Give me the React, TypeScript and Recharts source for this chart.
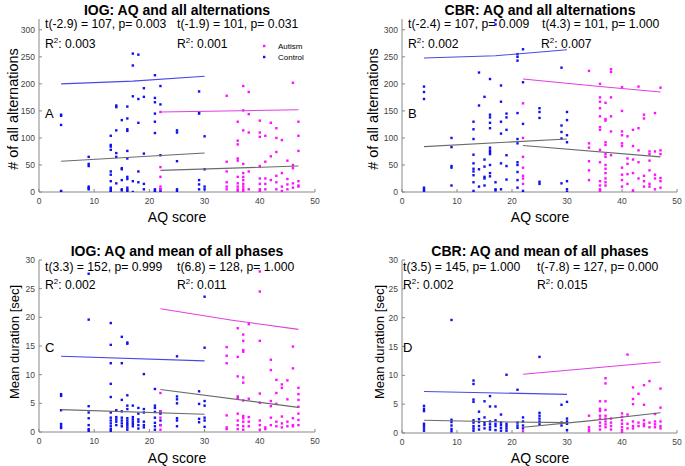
import { ScatterChart, Scatter, XAxis, YAxis } from 'recharts';

type Group = [number, number[]];

// AQ score -> values at that score
// Panel A: IOG, number of all alternations
const aControl: Group[] = [
  [4, [143, 141, 124, 0, 2]],
  [9, [65, 52, 48, 10, 7, 5]],
  [13, [104, 87, 84, 78, 38, 32, 20, 8, 5, 2, 0]],
  [14, [160, 157, 114, 72, 65, 16]],
  [15, [133, 44, 42, 22, 5, 3]],
  [16, [158, 136, 116, 113, 76, 62, 28, 24, 8, 4, 2]],
  [17, [256, 234, 177, 20, 0]],
  [18, [254, 172, 128, 38, 18]],
  [19, [192, 176, 71, 15, 5]],
  [21, [216, 174, 166, 145, 130, 109, 5, 3, 0]],
  [22, [196, 162, 68, 5, 2]],
  [25, [114, 110, 57, 5, 2]],
  [29, [186, 147, 145, 22, 14, 5]],
  [30, [103, 42, 10, 5]],
];
const aAutism: Group[] = [
  [22, [148, 46, 28, 10, 5]],
  [34, [178, 56, 38, 18, 10, 5]],
  [36, [130, 95, 88, 62, 58, 28, 16, 10, 5, 2]],
  [37, [196, 151, 114, 52, 35, 28, 22, 15, 10, 5, 2]],
  [38, [185, 144, 110, 38, 5]],
  [40, [132, 110, 102, 48, 25, 15, 5, 2]],
  [41, [104, 56, 25, 15, 5]],
  [42, [128, 66, 22]],
  [43, [118, 100, 74, 30, 18, 5]],
  [44, [96, 35, 10, 2]],
  [45, [58, 24, 14, 5]],
  [46, [202, 50, 44, 16, 8]],
  [47, [130, 104, 76, 20, 12, 10]],
];
const aFitControl = [[4, 200], [17, 205], [30, 214]];
const aFitAutism = [[22, 148], [47, 152]];
const aFitControlAll = [[4, 57], [30, 72]];
const aFitAutismAll = [[22, 40], [47, 48]];

// Panel B: CBR, number of all alternations
const bControl: Group[] = [
  [4, [195, 185, 172, 8, 5, 2]],
  [9, [100, 83, 48, 45, 12]],
  [13, [130, 116, 98, 69, 53, 43, 38, 31, 18, 2]],
  [14, [221, 160, 42, 10]],
  [15, [176, 60, 47, 28, 25, 12]],
  [16, [209, 143, 138, 128, 118, 82, 77, 74, 70, 50, 35, 29]],
  [17, [318, 310, 18, 5, 3]],
  [18, [197, 167, 130, 108, 53, 5]],
  [19, [145, 138, 115, 68, 48, 23]],
  [21, [255, 250, 243, 146, 98, 90, 55, 50, 37, 22, 8]],
  [22, [264, 203, 126, 2]],
  [25, [155, 148, 137, 19, 15]],
  [29, [230, 123, 111, 99, 16]],
  [30, [148, 133, 105, 92, 20, 5, 0]],
];
const bAutism: Group[] = [
  [22, [164, 100, 65, 45, 30, 25, 15]],
  [34, [224, 90, 82, 57, 40, 22]],
  [36, [200, 175, 167, 155, 140, 120, 115, 78, 55, 20, 12, 5, 2]],
  [37, [165, 135, 132, 92, 87, 70, 65, 50, 43, 35, 25, 18, 12]],
  [38, [227, 222, 175, 140, 112, 68]],
  [40, [194, 150, 112, 105, 90, 85, 45, 32, 22, 10]],
  [41, [103, 62, 52, 33, 15]],
  [42, [115, 85, 60, 35, 3, 0]],
  [43, [195, 118, 77, 55, 25]],
  [44, [143, 136, 30, 20, 10]],
  [45, [75, 70, 58, 40, 15, 10]],
  [46, [146, 75, 32, 25, 5]],
  [47, [193, 77, 70, 26, 20, 8]],
];
const bFitControl = [[4, 248], [17, 252], [30, 263]];
const bFitAutism = [[22, 209], [35, 196], [47, 185]];
const bFitControlAll = [[4, 84], [30, 98]];
const bFitAutismAll = [[22, 86], [47, 65]];

// Panel C: IOG, mean phase duration
const cControl: Group[] = [
  [4, [6.6, 6.3, 3.8, 1.4, 1.0, 0.7]],
  [9, [27.6, 19.6, 4.5, 3.4, 2.4, 1.2, 0.5, 0.2]],
  [13, [19.0, 15.2, 12.0, 8.4, 6.1, 3.4, 2.5, 2.0, 1.5, 1.0, 0.5, 0.2]],
  [14, [3.8, 2.6, 2.2, 1.8, 1.2]],
  [15, [16.6, 12.0, 5.6, 3.6, 2.5, 2.0, 1.5, 1.0]],
  [16, [15.6, 15.4, 6.4, 4.6, 4.0, 2.4, 2.0, 1.6, 1.2, 0.8, 0.4]],
  [17, [4.6, 2.6, 2.2, 1.8, 1.4, 1.0]],
  [18, [4.2, 3.2, 2.2, 1.8, 1.2, 0.6]],
  [19, [10.1, 4.0, 3.4, 1.8, 1.2, 0.8]],
  [21, [7.5, 4.6, 4.2, 3.5, 2.5, 1.6, 1.0, 0.4]],
  [22, [3.6, 3.2, 2.0, 1.2]],
  [25, [13.2, 6.2, 5.7, 5.0, 2.4, 2.0, 1.0]],
  [29, [7.1, 4.9, 2.3, 1.7]],
  [30, [23.6, 14.7, 5.4, 4.6, 2.5, 2.0, 0.9]],
];
const cAutism: Group[] = [
  [22, [6.8, 3.6, 2.5, 1.2, 0.4]],
  [34, [14.8, 13.3, 12.0, 2.9, 0.8, 0.5]],
  [36, [18.1, 13.1, 9.7, 6.2, 5.9, 3.2, 2.0, 1.2, 0.5]],
  [37, [17.0, 15.9, 14.3, 14.0, 9.5, 8.6, 5.5, 2.8, 2.4, 1.8, 1.0, 0.4]],
  [38, [18.8, 5.8, 2.6, 1.8, 1.0]],
  [40, [28.0, 24.5, 15.9, 6.7, 5.1, 2.0, 1.2, 0.4]],
  [41, [0.8, 0.5]],
  [42, [12.6, 10.8, 5.4, 4.5, 2.5, 1.2]],
  [43, [9.1, 6.8, 4.9, 1.8, 1.0]],
  [44, [8.3, 7.7, 2.7, 1.5, 0.8]],
  [45, [9.0, 5.7, 1.8, 1.0]],
  [46, [14.9, 11.1, 2.4, 1.2, 1.0]],
  [47, [7.7, 6.6, 5.6, 4.4, 3.2, 2.1, 1.2]],
];
const cFitControl = [[4, 13.2], [30, 12.4]];
const cFitAutism = [[22, 21.5], [35, 19.5], [47, 17.9]];
const cFitControlAll = [[4, 3.9], [30, 3.1]];
const cFitAutismAll = [[22, 7.4], [47, 4.3]];

// Panel D: CBR, mean phase duration
const dControl: Group[] = [
  [4, [4.7, 4.2, 3.8, 1.6, 1.2, 0.8, 0.4]],
  [9, [19.6, 2.3, 1.9, 1.3, 0.7, 0.3]],
  [13, [9.1, 8.5, 5.8, 5.4, 2.2, 1.8, 1.2, 0.8, 0.4]],
  [14, [3.7, 2.4, 1.9, 1.2, 0.6]],
  [15, [5.5, 2.7, 1.8, 1.4, 0.8]],
  [16, [6.4, 4.6, 2.0, 1.5, 1.0, 0.6]],
  [17, [4.6, 2.2, 1.6, 1.2, 0.5]],
  [18, [3.2, 1.8, 1.4, 0.9, 0.4]],
  [19, [10.1, 1.6, 1.2, 0.8, 0.4]],
  [21, [7.5, 1.8, 1.3, 0.9]],
  [22, [2.7, 2.0, 1.3, 0.8]],
  [25, [13.2, 3.5, 3.0, 2.5, 2.0, 1.5]],
  [29, [4.9, 1.8, 1.3]],
  [30, [5.4, 2.5, 2.0, 1.6, 0.5]],
];
const dAutism: Group[] = [
  [22, [0.3]],
  [34, [3.0, 1.0, 0.6, 0.3]],
  [36, [5.5, 4.2, 3.8, 3.0, 2.5, 1.8, 1.2, 0.6]],
  [37, [9.5, 8.6, 5.5, 4.0, 3.0, 2.5, 2.0, 1.5, 1.0]],
  [38, [2.5, 1.8, 1.2, 0.6]],
  [40, [3.4, 2.8, 2.2, 1.6, 1.0, 0.5, 0.1]],
  [41, [13.6, 3.2, 1.6, 0.8]],
  [42, [7.9, 5.9, 5.0, 2.0, 1.2, 0.8]],
  [43, [6.8, 1.8, 1.2]],
  [44, [8.3, 4.9, 2.2, 1.6, 1.2]],
  [45, [9.0, 1.8, 1.0]],
  [46, [3.3, 2.0, 1.5, 1.0]],
  [47, [7.7, 4.4, 2.0, 1.2, 0.8]],
];
const dFitControl = [[4, 7.2], [30, 6.7]];
const dFitAutism = [[22, 10.2], [47, 12.3]];
const dFitControlAll = [[4, 2.2], [20, 1.9], [30, 1.8]];
const dFitAutismAll = [[22, 1.0], [34, 2.1], [47, 3.5]];

const xTicks = [0, 10, 20, 30, 40, 50];
const altTicks = [0, 50, 100, 150, 200, 250, 300];
const durTicks = [0, 5, 10, 15, 20, 25, 30];

const FONT = '"Liberation Sans", Arial, Helvetica, sans-serif';
const BLUE = '#1010f0';
const MAGENTA = '#ff10ff';

const flat = (g: Group[]) => g.flatMap(([x, ys]) => ys.map(y => ({ x, y })));
const pts = (a: number[][]) => a.map(([x, y]) => ({ x, y }));

const Dot = (props: any) => (
  <rect x={props.cx - 1.2} y={props.cy - 1.2} width={2.4} height={2.4} fill={props.fill} />
);
const NoDot = () => <g />;

interface PanelProps {
  left: number; top: number; width: number; height: number;
  margin: { top: number; right: number; bottom: number; left: number };
  yMax: number; yTicks: number[];
  control: Group[]; autism: Group[];
  fits: { data: number[][]; color: string }[];
}

function Panel(p: PanelProps) {
  const tick = { fontSize: 8.5, fill: '#444', fontFamily: FONT };
  return (
    <div style={{ position: 'absolute', left: p.left, top: p.top }}>
      <ScatterChart width={p.width} height={p.height} margin={p.margin}>
        <XAxis type="number" dataKey="x" domain={[0, 50]} ticks={xTicks} height={20}
          stroke="#888" tick={tick} tickSize={-3} tickMargin={9} allowDataOverflow />
        <YAxis type="number" dataKey="y" domain={[0, p.yMax]} ticks={p.yTicks} width={30}
          stroke="#888" tick={tick} tickSize={-3} tickMargin={7} allowDataOverflow />
        <Scatter data={flat(p.control)} fill={BLUE} shape={Dot} isAnimationActive={false} />
        <Scatter data={flat(p.autism)} fill={MAGENTA} shape={Dot} isAnimationActive={false} />
        {p.fits.map((f, i) => (
          <Scatter key={i} data={pts(f.data)} fill="none" shape={NoDot}
            line={{ stroke: f.color, strokeWidth: 1.1 }} isAnimationActive={false} />
        ))}
      </ScatterChart>
    </div>
  );
}

const fitColors = ['#4848e8', '#e040e0', '#6a6a6a', '#6a6a6a'];
const mkFits = (a: number[][], b: number[][], c: number[][], d: number[][]) =>
  [a, b, c, d].map((data, i) => ({ data, color: fitColors[i] }));

function R2({ x, y, v }: { x: number; y: number; v: string }) {
  return (
    <text x={x} y={y} fontSize={12.2}>
      R<tspan dy={-5} fontSize={8}>2</tspan><tspan dy={5}>: {v}</tspan>
    </text>
  );
}

export default function App() {
  return (
    <div style={{ position: 'absolute', left: 0, top: 0, width: 685, height: 466, background: '#fff', fontFamily: FONT }}>
      <Panel left={0} top={0} width={340} height={230} margin={{ top: 19, right: 25, bottom: 18, left: 9 }}
        yMax={320} yTicks={altTicks} control={aControl} autism={aAutism}
        fits={mkFits(aFitControl, aFitAutism, aFitControlAll, aFitAutismAll)} />
      <Panel left={340} top={0} width={345} height={230} margin={{ top: 19, right: 8, bottom: 18, left: 32 }}
        yMax={320} yTicks={altTicks} control={bControl} autism={bAutism}
        fits={mkFits(bFitControl, bFitAutism, bFitControlAll, bFitAutismAll)} />
      <Panel left={0} top={230} width={340} height={236} margin={{ top: 30, right: 25, bottom: 14, left: 9 }}
        yMax={30} yTicks={durTicks} control={cControl} autism={cAutism}
        fits={mkFits(cFitControl, cFitAutism, cFitControlAll, cFitAutismAll)} />
      <Panel left={340} top={230} width={345} height={236} margin={{ top: 30, right: 8, bottom: 13, left: 32 }}
        yMax={30} yTicks={durTicks} control={dControl} autism={dAutism}
        fits={mkFits(dFitControl, dFitAutism, dFitControlAll, dFitAutismAll)} />

      <svg width={685} height={466} style={{ position: 'absolute', left: 0, top: 0, pointerEvents: 'none' }}
        fontFamily={FONT} fill="#000">
        {/* titles */}
        <text x={177} y={15} fontSize={14} fontWeight="bold" textAnchor="middle">IOG: AQ and all alternations</text>
        <text x={540} y={15} fontSize={14} fontWeight="bold" textAnchor="middle">CBR: AQ and all alternations</text>
        <text x={177} y={256} fontSize={14} fontWeight="bold" textAnchor="middle">IOG: AQ and mean of all phases</text>
        <text x={540} y={256} fontSize={14} fontWeight="bold" textAnchor="middle">CBR: AQ and mean of all phases</text>

        {/* stats */}
        <text x={45} y={27.5} fontSize={12.2}>t(-2.9) = 107, p= 0.003</text>
        <text x={177} y={27.5} fontSize={12.2}>t(-1.9) = 101, p= 0.031</text>
        <R2 x={45} y={47.5} v="0.003" />
        <R2 x={177} y={47.5} v="0.001" />

        <text x={408} y={27.5} fontSize={12.2}>t(-2.4) = 107, p= 0.009</text>
        <text x={542} y={27.5} fontSize={12.2}>t(4.3) = 101, p= 1.000</text>
        <R2 x={408} y={47.5} v="0.002" />
        <R2 x={541} y={47.5} v="0.007" />

        <text x={45} y={270.5} fontSize={12.2}>t(3.3) = 152, p= 0.999</text>
        <text x={177} y={270.5} fontSize={12.2}>t(6.8) = 128, p= 1.000</text>
        <R2 x={45} y={288.5} v="0.002" />
        <R2 x={177} y={288.5} v="0.011" />

        <text x={403} y={270.5} fontSize={12.2}>t(3.5) = 145, p= 1.000</text>
        <text x={537} y={270.5} fontSize={12.2}>t(-7.8) = 127, p= 0.000</text>
        <R2 x={403} y={288.5} v="0.002" />
        <R2 x={537} y={288.5} v="0.015" />

        {/* legend */}
        <rect x={263} y={44.8} width={2.4} height={2.4} fill={MAGENTA} />
        <text x={278} y={49} fontSize={8}>Autism</text>
        <rect x={263} y={55.8} width={2.4} height={2.4} fill={BLUE} />
        <text x={278} y={60} fontSize={8}>Control</text>

        {/* panel letters */}
        <text x={45} y={117.5} fontSize={13}>A</text>
        <text x={408} y={117.5} fontSize={13}>B</text>
        <text x={45} y={351.5} fontSize={13}>C</text>
        <text x={403} y={351.5} fontSize={13}>D</text>

        {/* axis labels */}
        <text x={177} y={222} fontSize={14} textAnchor="middle">AQ score</text>
        <text x={540} y={222} fontSize={14} textAnchor="middle">AQ score</text>
        <text x={177} y={463} fontSize={14} textAnchor="middle">AQ score</text>
        <text x={540} y={463} fontSize={14} textAnchor="middle">AQ score</text>
        <text transform="translate(17.5,109) rotate(-90)" fontSize={14.5} textAnchor="middle"># of all alternations</text>
        <text transform="translate(378,109) rotate(-90)" fontSize={14.5} textAnchor="middle"># of all alternations</text>
        <text transform="translate(19,342) rotate(-90)" fontSize={13} textAnchor="middle">Mean duration [sec]</text>
        <text transform="translate(383.5,342) rotate(-90)" fontSize={13} textAnchor="middle">Mean duration [sec]</text>
      </svg>
    </div>
  );
}
